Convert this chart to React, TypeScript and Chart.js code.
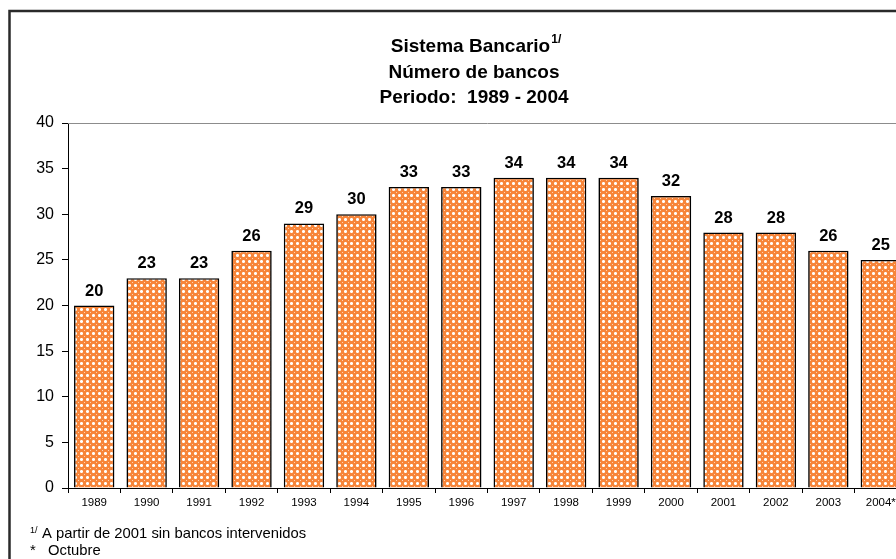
import { useEffect, useRef } from "react";
import { Chart, registerables } from "chart.js";

Chart.register(...registerables);

// Años del periodo (2004 con corte a octubre)
const years = [
  "1989", "1990", "1991", "1992", "1993", "1994", "1995", "1996",
  "1997", "1998", "1999", "2000", "2001", "2002", "2003", "2004*",
];

// Número de bancos por año
const banks = [20, 23, 23, 26, 29, 30, 33, 33, 34, 34, 34, 32, 28, 28, 26, 25];

const yMin = 0;
const yMax = 40;
const yStep = 5;

const titleMain = "Sistema Bancario";
const titleSup = "1/";
const titleLine2 = "Número de bancos";
const titleLine3 = "Periodo:  1989 - 2004";

const noteSup = "1/";
const note1 = "A partir de 2001 sin bancos intervenidos";
const note2Mark = "*";
const note2 = "Octubre";

const FONT = "Arial, 'Liberation Sans', Helvetica, sans-serif";

// Trama naranja con rombos blancos para el relleno de las barras
function makePattern(): CanvasPattern | string {
  const c = document.createElement("canvas");
  c.width = 6;
  c.height = 6;
  const g = c.getContext("2d");
  if (!g) return "#F8A060";
  g.fillStyle = "#F7853A";
  g.fillRect(0, 0, 6, 6);
  g.fillStyle = "#FFFFFF";
  g.fillRect(3, 2, 1, 3);
  g.fillRect(2, 3, 3, 1);
  g.fillStyle = "#FDD3B2";
  g.fillRect(0, 0, 1, 1);
  g.fillRect(2, 2, 1, 1);
  g.fillRect(4, 4, 1, 1);
  g.fillRect(4, 2, 1, 1);
  g.fillRect(2, 4, 1, 1);
  const p = g.createPattern(c, "repeat");
  return p || "#F8A060";
}

const framePlugin = {
  id: "frame",
  beforeDraw(chart: Chart) {
    const { ctx, width, height } = chart;
    ctx.save();
    ctx.fillStyle = "#FFFFFF";
    ctx.fillRect(0, 0, width, height);
    ctx.strokeStyle = "#2A2A2A";
    ctx.lineWidth = 2.5;
    ctx.strokeRect(9.5, 11, width - 19, height + 20);
    ctx.restore();
  },
  beforeDatasetsDraw(chart: Chart) {
    const { ctx, chartArea } = chart;
    ctx.save();
    ctx.strokeStyle = "#8C8C8C";
    ctx.lineWidth = 1;
    ctx.beginPath();
    ctx.moveTo(chartArea.left, chartArea.top + 0.5);
    ctx.lineTo(chartArea.right, chartArea.top + 0.5);
    ctx.moveTo(chartArea.right - 0.5, chartArea.top);
    ctx.lineTo(chartArea.right - 0.5, chartArea.bottom);
    ctx.stroke();
    ctx.restore();
  },
};

const textPlugin = {
  id: "texts",
  afterDraw(chart: Chart) {
    const { ctx } = chart;
    ctx.save();
    ctx.fillStyle = "#000000";
    ctx.textBaseline = "alphabetic";

    // Título
    const cx = 476;
    ctx.font = `bold 19px ${FONT}`;
    const wMain = ctx.measureText(titleMain).width;
    ctx.font = `bold 12px ${FONT}`;
    const wSup = ctx.measureText(titleSup).width;
    const start = cx - (wMain + wSup + 1) / 2;
    ctx.textAlign = "left";
    ctx.font = `bold 19px ${FONT}`;
    ctx.fillText(titleMain, start, 51.5);
    ctx.font = `bold 12px ${FONT}`;
    ctx.fillText(titleSup, start + wMain + 1, 43);
    ctx.textAlign = "center";
    ctx.font = `bold 19px ${FONT}`;
    ctx.fillText(titleLine2, 474, 77.5);
    ctx.fillText(titleLine3, 474, 103);

    // Notas
    ctx.textAlign = "left";
    ctx.font = `9px ${FONT}`;
    ctx.fillText(noteSup, 30, 533);
    ctx.font = `14.8px ${FONT}`;
    ctx.fillText(note1, 42, 538);
    ctx.fillText(note2Mark, 30, 555);
    ctx.fillText(note2, 48, 555);
    ctx.restore();
  },
};

const valueLabelPlugin = {
  id: "valueLabels",
  afterDatasetsDraw(chart: Chart) {
    const { ctx } = chart;
    const meta = chart.getDatasetMeta(0);
    const data = chart.data.datasets[0].data as number[];
    ctx.save();
    ctx.fillStyle = "#000000";
    ctx.font = `bold 16.5px ${FONT}`;
    ctx.textAlign = "center";
    ctx.textBaseline = "alphabetic";
    meta.data.forEach((el: any, i: number) => {
      ctx.fillText(String(data[i]), el.x, el.y - 10);
    });
    ctx.restore();
  },
};

export default function App() {
  const ref = useRef<HTMLCanvasElement | null>(null);

  useEffect(() => {
    if (!ref.current) return;
    const chart = new Chart(ref.current, {
      type: "bar",
      data: {
        labels: years,
        datasets: [
          {
            data: banks,
            backgroundColor: makePattern() as any,
            borderColor: "#000000",
            borderWidth: 1.6,
            barPercentage: 0.77,
            categoryPercentage: 1,
          },
        ],
      },
      options: {
        animation: false,
        responsive: false,
        devicePixelRatio: 1,
        events: [],
        layout: { padding: { top: 123, right: 33, bottom: 41, left: 0 } },
        plugins: {
          legend: { display: false },
          title: { display: false },
          tooltip: { enabled: false },
        },
        scales: {
          x: {
            grid: {
              offset: true,
              drawOnChartArea: false,
              drawTicks: true,
              tickLength: 5,
              color: "#000000",
            },
            border: { display: true, color: "#000000", width: 1 },
            ticks: {
              color: "#000000",
              font: { family: FONT, size: 11.5 },
              padding: 3,
              maxRotation: 0,
              autoSkip: false,
            },
            afterFit(scale: any) {
              scale.height = 30;
            },
          },
          y: {
            min: yMin,
            max: yMax,
            grid: {
              drawOnChartArea: false,
              drawTicks: true,
              tickLength: 6,
              color: "#000000",
            },
            border: { display: true, color: "#000000", width: 1 },
            ticks: {
              stepSize: yStep,
              color: "#000000",
              font: { family: FONT, size: 16 },
              padding: 8,
            },
            afterFit(scale: any) {
              scale.width = 68;
            },
          },
        },
      },
      plugins: [framePlugin, valueLabelPlugin, textPlugin],
    });
    return () => chart.destroy();
  }, []);

  return (
    <div
      style={{
        position: "absolute",
        left: 0,
        top: 0,
        width: 896,
        height: 559,
        overflow: "hidden",
        background: "#fff",
      }}
    >
      <canvas ref={ref} width={940} height={559} style={{ display: "block" }} />
    </div>
  );
}
